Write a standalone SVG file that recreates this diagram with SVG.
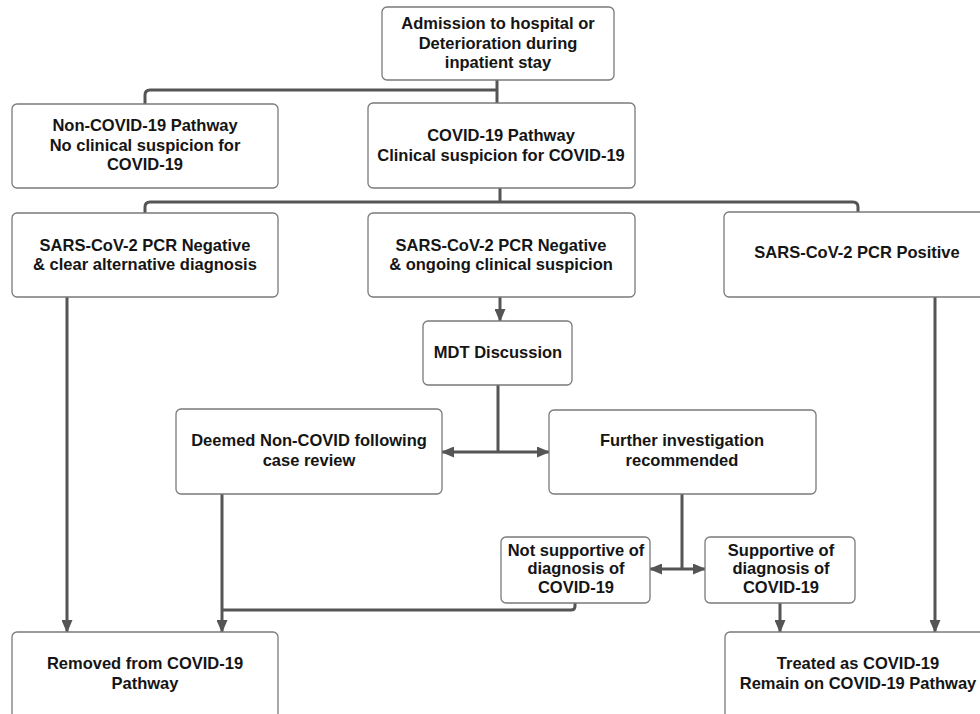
<svg xmlns="http://www.w3.org/2000/svg" width="980" height="714" viewBox="0 0 980 714">
<defs>
<style>
.box{fill:#fff;stroke:#7a7a7a;stroke-width:1.3}
.t{font-family:"Liberation Sans",Arial,sans-serif;font-weight:bold;font-size:16.5px;fill:#151515;text-anchor:middle}
.c{fill:none;stroke:#555;stroke-width:3;stroke-linejoin:round}
</style>
<marker id="ah" markerUnits="userSpaceOnUse" markerWidth="13" markerHeight="11" refX="12" refY="5.5" orient="auto">
<path d="M0 0 L13 5.5 L0 11 z" fill="#555"/>
</marker>
</defs>
<rect width="980" height="714" fill="#fff"/>
<g id="connectors">
<path class="c" d="M497 80 V103 M497 90 H150 Q145 90 145 95 V104"/>
<path class="c" d="M500 188 V202 M145 213 V207 Q145 202 150 202 H853 Q858 202 858 207 V212"/>
<path class="c" d="M67 297 V632" marker-end="url(#ah)"/>
<path class="c" d="M500 297 V321" marker-end="url(#ah)"/>
<path class="c" d="M935 297 V632" marker-end="url(#ah)"/>
<path class="c" d="M498 385 V452"/>
<path class="c" d="M498 452 H442" marker-end="url(#ah)"/>
<path class="c" d="M498 452 H549" marker-end="url(#ah)"/>
<path class="c" d="M682 494 V569"/>
<path class="c" d="M682 569 H650" marker-end="url(#ah)"/>
<path class="c" d="M682 569 H705" marker-end="url(#ah)"/>
<path class="c" d="M222 494 V632" marker-end="url(#ah)"/>
<path class="c" d="M575 603 V606 Q575 610 571 610 H222"/>
<path class="c" d="M780 603 V632" marker-end="url(#ah)"/>
</g>
<g id="admission">
<rect class="box" x="382" y="7" width="232" height="73" rx="5"/>
<text class="t" x="498" y="29">Admission to hospital or</text>
<text class="t" x="498" y="48.5">Deterioration during</text>
<text class="t" x="498" y="68">inpatient stay</text>
</g>
<g id="non-covid">
<rect class="box" x="12" y="104" width="266" height="84" rx="5"/>
<text class="t" x="145" y="130.5">Non-COVID-19 Pathway</text>
<text class="t" x="145" y="150.5">No clinical suspicion for</text>
<text class="t" x="145" y="169.5">COVID-19</text>
</g>
<g id="covid">
<rect class="box" x="368" y="103" width="267" height="85" rx="5"/>
<text class="t" x="501" y="140.5">COVID-19 Pathway</text>
<text class="t" x="501" y="160.5">Clinical suspicion for COVID-19</text>
</g>
<g id="neg-alt">
<rect class="box" x="12" y="213" width="266" height="84" rx="5"/>
<text class="t" x="145" y="250.5">SARS-CoV-2 PCR Negative</text>
<text class="t" x="145" y="269.5">&amp; clear alternative diagnosis</text>
</g>
<g id="neg-susp">
<rect class="box" x="368" y="213" width="267" height="84" rx="5"/>
<text class="t" x="501" y="250.5">SARS-CoV-2 PCR Negative</text>
<text class="t" x="501" y="269.5">&amp; ongoing clinical suspicion</text>
</g>
<g id="positive">
<rect class="box" x="724" y="212" width="270" height="85" rx="5"/>
<text class="t" x="857" y="257.5">SARS-CoV-2 PCR Positive</text>
</g>
<g id="mdt">
<rect class="box" x="423" y="321" width="149" height="64" rx="5"/>
<text class="t" x="498" y="357.5">MDT Discussion</text>
</g>
<g id="deemed">
<rect class="box" x="176" y="409" width="266" height="85" rx="5"/>
<text class="t" x="309" y="445.5">Deemed Non-COVID following</text>
<text class="t" x="309" y="465.5">case review</text>
</g>
<g id="further">
<rect class="box" x="549" y="410" width="267" height="84" rx="5"/>
<text class="t" x="682" y="445.5">Further investigation</text>
<text class="t" x="682" y="465.5">recommended</text>
</g>
<g id="not-supportive">
<rect class="box" x="501" y="537" width="149" height="66" rx="5"/>
<text class="t" x="576" y="555.5">Not supportive of</text>
<text class="t" x="576" y="574">diagnosis of</text>
<text class="t" x="576" y="592.5">COVID-19</text>
</g>
<g id="supportive">
<rect class="box" x="705" y="537" width="150" height="66" rx="5"/>
<text class="t" x="781" y="555.5">Supportive of</text>
<text class="t" x="781" y="574">diagnosis of</text>
<text class="t" x="781" y="592.5">COVID-19</text>
</g>
<g id="removed">
<rect class="box" x="12" y="632" width="266" height="95" rx="5"/>
<text class="t" x="145" y="668.5">Removed from COVID-19</text>
<text class="t" x="145" y="688.5">Pathway</text>
</g>
<g id="treated">
<rect class="box" x="725" y="632" width="270" height="95" rx="5"/>
<text class="t" x="858" y="668.5">Treated as COVID-19</text>
<text class="t" x="858" y="688.5">Remain on COVID-19 Pathway</text>
</g>
</svg>
